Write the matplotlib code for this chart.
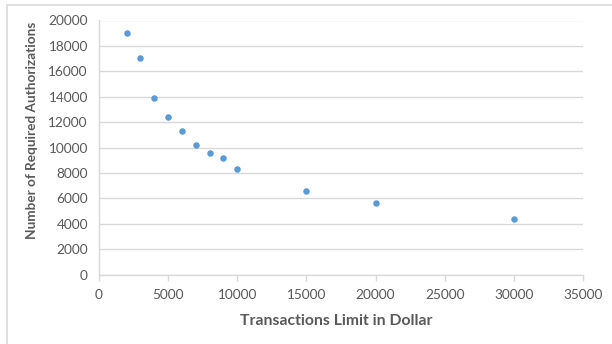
import matplotlib.pyplot as plt
from matplotlib.patches import Rectangle

# transaction limit ($) vs. number of authorizations that would be required
limit = [2000, 3000, 4000, 5000, 6000, 7000, 8000, 9000, 10000, 15000, 20000, 30000]
authorizations = [19050, 17020, 13870, 12380, 11300, 10240, 9600, 9170, 8310, 6620, 5640, 4420]

plt.rcParams['font.family'] = ['Lato', 'DejaVu Sans']
grey_text = '#595959'
grid_col = '#d9d9d9'

fig = plt.figure(figsize=(6.12, 3.44), dpi=100)
ax = fig.add_axes([99 / 612, 1 - 274.7 / 344, 484 / 612, 254.2 / 344])

ax.scatter(limit, authorizations, s=22, c='#5b9bd5', zorder=3, linewidths=0)

ax.set_xlim(0, 35000)
ax.set_ylim(0, 20000)
ax.set_xticks(range(0, 35001, 5000))
ax.set_yticks(range(0, 20001, 2000))
ax.grid(axis='y', color=grid_col, linewidth=1)
ax.set_axisbelow(True)

for side in ['top', 'right']:
    ax.spines[side].set_visible(False)
for side in ['left', 'bottom']:
    ax.spines[side].set_color(grid_col)
    ax.spines[side].set_linewidth(1)

ax.tick_params(axis='x', colors=grey_text, labelsize=9.8, length=4, width=1,
               color=grid_col, pad=6)
ax.tick_params(axis='y', colors=grey_text, labelsize=9.8, length=0, pad=8)

fig.text(336 / 612, 1 - 321 / 344, 'Transactions Limit in Dollar', ha='center', va='center',
         fontsize=11.3, fontweight='bold', color=grey_text)
fig.text(32 / 612, 1 - 130 / 344, 'Number of Required Authorizations', ha='center', va='center',
         rotation=90, fontsize=9.8, fontweight='bold', color=grey_text)

# chart area border (partly cropped on right/bottom)
fig.patches.append(Rectangle((7 / 612, -0.1), 1.2, 1 - 5 / 344 + 0.1, transform=fig.transFigure,
                             fill=False, edgecolor=grid_col, linewidth=1.2))

fig.savefig('out.png', dpi=100)
